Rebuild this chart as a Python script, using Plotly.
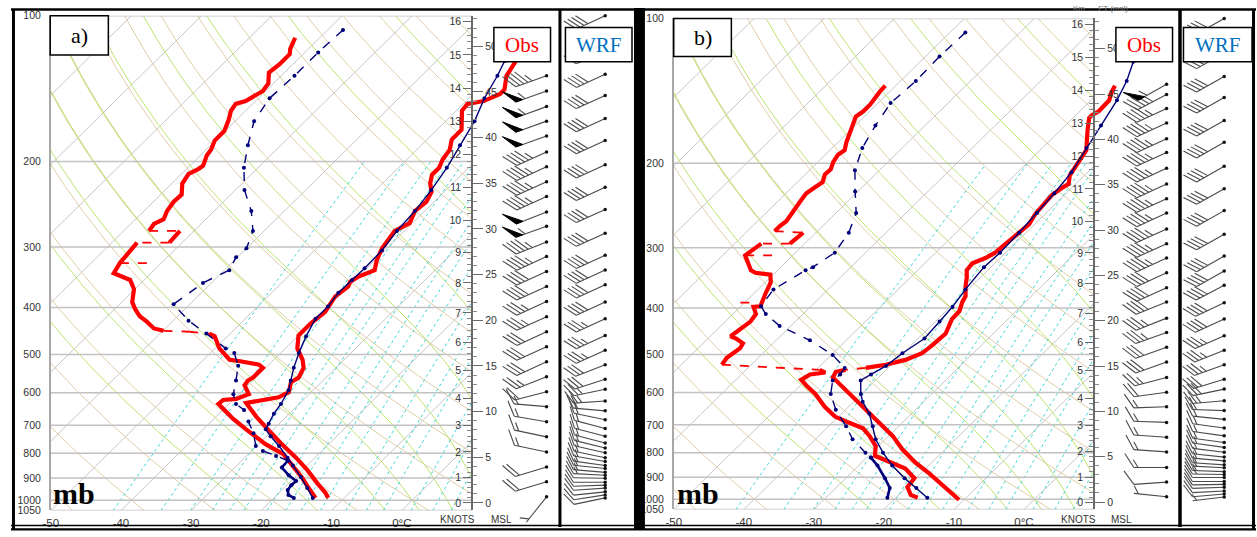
import numpy as np
import plotly.graph_objects as go

W, H = 1257, 537
SANS = "Liberation Sans, Arial, sans-serif"
SERIF = "Liberation Serif, Times New Roman, serif"

SKEW = 70.0              # degC of skew per decade of pressure
P_BOT, P_TOP = 1050.0, 100.0
T_LEFT, T_RIGHT = -50.0, 10.0

# ---------------- axis / tick data ----------------
P_TICKS = [100, 200, 300, 400, 500, 600, 700, 800, 900, 1000, 1050]
T_TICKS = [-50, -40, -30, -20, -10, 0]
T_TICK_TEXT = ["-50", "-40", "-30", "-20", "-10", "0°C"]
KM_TICKS = [0, 1, 2, 3, 4, 5, 6, 7, 8, 9, 10, 11, 12, 13, 14, 15, 16]
KNOT_TICKS = [0, 5, 10, 15, 20, 25, 30, 35, 40, 45, 50]
KNOT_ZERO_P = 1013.25
KNOT_50_P = 115.6

ISOTHERMS = [-130, -120, -110, -100, -90, -80, -70, -60, -50, -40, -30, -20, -10, 0, 10]
DRY_THETA_C = [-60, -50, -40, -30, -20, -10, 0, 10, 20, 30, 40, 50, 60, 70, 80, 90, 100, 110, 120, 130, 140, 150]
MOIST_T1000 = [-25, -15, -5, 0, 5, 10, 15, 20, 25, 30, 35, 40]
MIX_RATIOS = [0.1, 0.2, 0.3, 0.4, 0.5, 0.6, 0.8, 1.0, 1.2, 1.5, 2.0, 2.5, 3.0, 4.0, 5.0, 6.0, 8.0, 10.0, 12.0]
MIX_TOP_P = 200.0

# ---------------- panel a : sounding data ----------------
OBS_A_T_P = [120, 124, 133, 138, 142, 145, 150, 152, 157, 164, 172, 180, 189, 198, 206, 213, 222, 231, 242, 253,
             268, 278, 291, 302, 320, 335, 346, 354, 362, 380, 409, 432, 457, 486, 513, 533, 558, 571, 598, 613,
             630, 672, 714, 762, 817, 868, 922, 966, 989]
OBS_A_T = [-49.2, -48.7, -47.9, -47.0, -46.2, -46.2, -47.5, -49.4, -49.2, -47.9, -46.5, -46.5, -45.3, -44.9, -44.2,
           -44.2, -43.2, -41.8, -41.1, -41.4, -40.4, -41.4, -41.1, -40.7, -39.7, -38.6, -40.0, -40.4, -40.0, -40.4,
           -39.6, -40.0, -40.0, -38.3, -35.9, -34.6, -33.9, -34.3, -33.2, -33.9, -37.7, -34.3, -30.8, -27.0, -22.7,
           -19.2, -16.0, -13.4, -12.3]
OBS_A_TD_P = [111, 117, 120, 126, 131, 138, 143, 150, 152, 157, 164, 173, 181, 189, 194, 204, 207, 212, 222, 234,
              242, 253, 263, 269, 278, 278, 287, 294, 294, 302, 315, 324, 340, 351, 367, 390, 403, 417, 428, 442,
              447, 449, 453, 459, 486, 504, 513, 516, 525, 533, 550, 558, 566, 579, 604, 618, 621, 633, 651, 679,
              714, 766, 802, 848, 901, 944, 989]
OBS_A_TD = [-83.5, -82.6, -81.9, -81.9, -82.2, -80.7, -80.4, -81.4, -82.4, -82.1, -81.1, -80.1, -80.1, -79.3, -79.1,
            -78.1, -78.3, -79.0, -78.5, -77.0, -77.1, -76.7, -76.0, -76.7, -76.4, -72.0, -71.8, -71.8, -76.4, -76.3,
            -76.0, -75.9, -75.3, -72.0, -70.1, -68.5, -67.1, -65.4, -63.6, -61.6, -59.9, -56.1, -53.0, -51.8, -49.4,
            -47.3, -46.3, -44.8, -41.4, -40.4, -40.4, -40.4, -40.7, -40.5, -38.6, -39.7, -41.4, -41.5, -39.8, -37.3,
            -33.9, -29.0, -25.1, -22.0, -18.8, -16.5, -14.1]
OBS_A_SPIKE_P = [324]
OBS_A_SPIKE_T1 = [-75.9]
OBS_A_SPIKE_T2 = [-71.1]

WRF_A_T_P = [115, 124, 133, 148, 165, 185, 206, 229, 253, 278, 305, 332, 351, 373, 398, 422, 459, 497, 533, 566,
             593, 633, 663, 695, 714, 738, 773, 817, 848, 896, 944, 989]
WRF_A_T = [-51.7, -50.3, -49.2, -47.8, -45.9, -44.5, -43.1, -42.1, -41.4, -41.1, -40.4, -40.3, -40.4, -40.5, -40.0,
           -40.0, -38.8, -37.4, -36.0, -34.6, -33.5, -32.6, -32.2, -31.5, -31.1, -29.4, -26.8, -23.9, -22.0, -19.2,
           -16.7, -14.5]
WRF_A_TD_P = [107, 119, 133, 148, 165, 185, 206, 229, 253, 278, 302, 315, 335, 356, 394, 426, 453, 486, 497, 528,
              566, 604, 633, 651, 688, 727, 773, 791, 810, 829]
WRF_A_TD = [-77.8, -78.1, -78.1, -78.4, -77.3, -74.7, -72.0, -68.7, -64.7, -61.6, -60.0, -60.2, -59.3, -61.2, -62.3,
            -57.8, -53.4, -48.5, -46.6, -44.2, -42.4, -40.8, -39.0, -37.0, -34.7, -32.3, -30.1, -28.4, -25.8, -23.4]
WRF_A_TD_LOW_P = [829, 856, 888, 913, 931, 953, 975, 989]
WRF_A_TD_LOW = [-23.4, -23.3, -21.2, -19.3, -19.4, -19.2, -18.4, -17.2]

# ---------------- panel b : sounding data ----------------
OBS_B_T_P = [138, 142, 148, 152, 156, 159, 161, 171, 179, 188, 195, 202, 212, 221, 224, 233, 243, 255, 268, 280,
             294, 307, 315, 323, 334, 345, 361, 378, 389, 406, 422, 452, 478, 497, 513, 525, 533, 538, 543, 558,
             585, 622, 651, 696, 739, 786, 839, 883, 934, 979, 1002]
OBS_B_T = [-48.7, -48.3, -47.4, -47.4, -47.3, -47.7, -47.7, -46.1, -44.8, -43.4, -43.0, -42.6, -42.1, -41.0, -41.3,
           -41.8, -41.6, -41.4, -40.8, -41.1, -41.4, -41.5, -42.1, -43.2, -43.0, -42.0, -40.8, -39.4, -39.0, -38.1,
           -38.0, -36.8, -37.0, -37.3, -38.7, -40.8, -43.2, -45.8, -46.9, -46.5, -43.6, -39.9, -37.1, -33.1, -29.4,
           -26.2, -22.3, -18.8, -15.2, -12.4, -10.7]
OBS_B_TD_P = [138, 142, 151, 156, 160, 167, 175, 181, 188, 192, 199, 206, 211, 219, 224, 231, 240, 252, 264, 270,
              277, 279, 287, 294, 294, 301, 308, 311, 334, 338, 341, 354, 372, 384, 397, 398, 412, 427, 442, 452,
              458, 463, 474, 485, 497, 508, 525, 538, 545, 550, 564, 579, 604, 642, 673, 689, 712, 739, 775, 812,
              839, 863, 904, 943, 979, 992]
OBS_B_TD = [-81.5, -81.4, -80.9, -80.9, -81.2, -80.4, -79.4, -78.8, -77.9, -78.2, -77.8, -77.1, -77.2, -76.4, -76.7,
            -77.1, -76.8, -76.4, -75.9, -76.1, -76.1, -71.8, -72.0, -72.1, -76.2, -76.4, -76.6, -76.8, -73.8, -72.8,
            -70.4, -69.2, -68.4, -67.8, -67.2, -68.1, -66.7, -66.4, -66.8, -67.1, -67.1, -66.0, -64.3, -64.0, -64.3,
            -64.5, -64.2, -49.5, -48.3, -50.2, -50.7, -49.2, -46.6, -43.4, -40.5, -38.2, -34.8, -32.7, -30.4, -29.1,
            -25.6, -22.9, -20.2, -19.9, -18.3, -16.9]
OBS_B_SPIKE_P = [311, 390]
OBS_B_SPIKE_T1 = [-76.8, -70.6]
OBS_B_SPIKE_T2 = [-72.4, -68.4]

WRF_B_T_P = [114, 123, 135, 148, 167, 186, 209, 231, 254, 279, 307, 329, 366, 398, 427, 463, 497, 528, 550, 566,
             604, 627, 664, 705, 750, 800, 851, 904, 947, 993]
WRF_B_T = [-51.1, -49.6, -47.7, -46.3, -44.9, -43.7, -42.3, -41.7, -41.3, -41.0, -40.8, -41.0, -40.4, -39.7, -39.4,
           -39.1, -40.1, -40.6, -41.5, -42.1, -40.1, -38.7, -36.0, -33.7, -31.4, -28.4, -25.2, -21.6, -18.5, -15.5]
WRF_B_TD_P = [107, 120, 135, 150, 167, 186, 207, 229, 254, 279, 307, 329, 334, 366, 397, 412, 436, 467, 501, 533,
              550, 566, 604, 651, 705, 750, 800, 819]
WRF_B_TD = [-77.8, -78.0, -77.8, -78.2, -77.1, -75.7, -73.5, -70.4, -67.1, -65.3, -64.4, -65.4, -66.0, -67.8, -67.1,
            -65.3, -61.6, -55.2, -49.8, -46.2, -45.9, -46.1, -44.4, -41.4, -37.5, -34.7, -30.9, -29.4]
WRF_B_TD_LOW_P = [819, 851, 904, 947, 993]
WRF_B_TD_LOW = [-29.4, -27.3, -24.4, -22.3, -21.2]

# ---------------- wind barbs (direction deg, speed kt) ----------------
OBS_A_BARB_P = [133, 143, 154, 165, 177, 191, 205, 220, 236, 254, 272, 293, 314, 337, 362, 389, 418, 449, 482, 518,
                556, 597, 641, 689, 740, 795, 854, 916, 984]
OBS_A_DIR = [250, 250, 250, 250, 250, 245, 245, 245, 245, 248, 250, 248, 245, 245, 245, 245, 245, 245, 245, 245,
             248, 255, 275, 280, 282, 282, 253, 253, 218]
OBS_A_SPD = [45, 55, 55, 50, 50, 45, 45, 45, 45, 50, 55, 45, 45, 40, 40, 35, 35, 30, 30, 30,
             25, 20, 15, 15, 15, 15, 20, 20, 5]

OBS_B_BARB_P = [137, 144, 154, 165, 178, 190, 205, 221, 237, 254, 274, 294, 315, 338, 363, 389, 420, 450, 483, 518,
                558, 599, 642, 692, 743, 797, 859, 921, 988]
OBS_B_DIR = [240, 242, 245, 245, 245, 245, 245, 245, 245, 245, 245, 245, 245, 245, 245, 248, 248, 250, 250, 250,
             255, 262, 268, 272, 274, 274, 270, 266, 276]
OBS_B_SPD = [55, 45, 45, 45, 45, 45, 45, 45, 45, 45, 45, 45, 45, 40, 40, 40, 35, 35, 30, 30,
             25, 20, 15, 15, 15, 15, 15, 10, 3]

WRF_BARB_P = [100, 118, 132, 146, 163, 181, 203, 226, 251, 281, 312, 335, 359, 390, 422, 457, 490, 525, 563, 590,
              624, 654, 682, 711, 738, 762, 780, 798, 817, 832, 848, 860, 876, 888, 901, 918, 931, 944, 961, 975, 989]
WRF_A_DIR = [245, 245, 245, 245, 245, 245, 245, 245, 245, 245, 245, 245, 245, 245, 245, 245, 245, 248, 252, 258,
             266, 275, 282, 285, 285, 285, 284, 283, 282, 280, 278, 276, 275, 273, 271, 270, 268, 266, 264, 261, 258]
WRF_A_SPD = [40, 40, 40, 40, 40, 40, 40, 40, 40, 40, 40, 40, 40, 40, 35, 35, 35, 30, 30, 25,
             25, 20, 20, 15, 15, 15, 15, 15, 15, 15, 15, 15, 15, 15, 10, 10, 10, 10, 10, 10, 10]
WRF_B_DIR = [240, 240, 240, 240, 240, 240, 240, 240, 240, 240, 240, 240, 242, 244, 245, 246, 248, 250, 253, 258,
             265, 272, 276, 278, 278, 278, 278, 277, 276, 275, 274, 273, 272, 271, 270, 270, 269, 268, 267, 265, 263]
WRF_B_SPD = [40, 40, 40, 40, 40, 40, 40, 40, 40, 40, 40, 40, 40, 40, 40, 35, 35, 35, 30, 30,
             25, 20, 20, 15, 15, 15, 15, 15, 15, 15, 15, 15, 15, 15, 10, 10, 10, 10, 10, 10, 5]

# ---------------- layout geometry (pixels) ----------------
PANELS = {
    "a": dict(x0=43.0, x1=467.0, y0=10.0, y1=516.0, xend=556.0, obs_x=542.0, wrf_x=601.0,
              xa="x", ya="y", yk="y3", yn="y4", bx="x5", by="y5"),
    "b": dict(x0=670.0, x1=1093.0, y0=12.7, y1=515.0, xend=1180.0, obs_x=1166.0, wrf_x=1224.0,
              xa="x2", ya="y2", yk="y6", yn="y7", bx="x8", by="y8"),
}

# ---------------- helpers ----------------
RD, CP, LV, EPS = 287.04, 1005.7, 2.501e6, 0.622


def skew(T, p):
    return np.asarray(T, float) + SKEW * np.log10(P_BOT / np.asarray(p, float))


def nn(a):
    return [None if (v is None or (isinstance(v, float) and np.isnan(v))) else float(v) for v in a]


P_GRID = np.logspace(np.log10(P_BOT), np.log10(P_TOP), 420)


def sat_vp(Tk):
    Tc = Tk - 273.15
    return 6.112 * np.exp(17.67 * Tc / (Tc + 243.5))


def moist_rate(T, p):
    es = sat_vp(T)
    rs = EPS * es / (p - es)
    return (RD * T + LV * rs) / (p * (CP + LV * LV * rs * EPS / (RD * T * T)))


def integrate(T, ps):
    out = [T]
    for i in range(len(ps) - 1):
        p, h = ps[i], ps[i + 1] - ps[i]
        k1 = moist_rate(T, p)
        k2 = moist_rate(T + 0.5 * h * k1, p + 0.5 * h)
        k3 = moist_rate(T + 0.5 * h * k2, p + 0.5 * h)
        k4 = moist_rate(T + h * k3, p + h)
        T = T + h * (k1 + 2 * k2 + 2 * k3 + k4) / 6.0
        out.append(T)
    return np.array(out)


def moist_adiabat(t1000):
    up = np.linspace(1000.0, 100.0, 361)
    down = np.linspace(1000.0, 1050.0, 21)
    tu = integrate(t1000 + 273.15, up)
    td = integrate(t1000 + 273.15, down)
    p = np.concatenate([down[::-1], up[1:]])
    T = np.concatenate([td[::-1], tu[1:]]) - 273.15
    return p, T


def std_pressure(z_km):
    z = np.asarray(z_km, float) * 1000.0
    low = 1013.25 * np.clip(1 - 2.25577e-5 * np.minimum(z, 11000.0), 1e-6, None) ** 5.25588
    high = 226.32 * np.exp(-(z - 11000.0) / 6341.62)
    return np.where(z <= 11000.0, low, high)


def family(curves):
    X, Y = [], []
    for p, T in curves:
        xs = skew(T, p)
        xs = np.where(xs > T_RIGHT, np.nan, xs)
        X += nn(xs) + [None]
        Y += nn(p) + [None]
    return X, Y


def split_jumps(p, T):
    p = np.asarray(p, float)
    T = np.asarray(T, float)
    xs = skew(T, p)
    mx, my, jx, jy = [float(xs[0])], [float(p[0])], [], []
    for i in range(1, len(p)):
        dlog = abs(np.log10(p[i] / p[i - 1]))
        dT = abs(T[i] - T[i - 1])
        if dT > 2.5 and dT > 600 * dlog:
            mx.append(None)
            my.append(None)
            jx += [float(xs[i - 1]), float(xs[i]), None]
            jy += [float(p[i - 1]), float(p[i]), None]
        mx.append(float(xs[i]))
        my.append(float(p[i]))
    return mx, my, jx, jy


def line_trace(x, y, xa, ya, color, width, dash="solid", marker=None):
    kw = dict(x=x, y=y, xaxis=xa, yaxis=ya, mode="lines", hoverinfo="skip", showlegend=False,
              line=dict(color=color, width=width, dash=dash), connectgaps=False)
    if marker:
        kw["mode"] = "lines+markers"
        kw["marker"] = dict(size=marker, color=color)
    return go.Scatter(**kw)


def barb_traces(sx, plist, dirs, spds, ppd, xa, ya, L, F, gap, color):
    lx, ly, fx, fy, dx, dy = [], [], [], [], [], []
    tilt = np.deg2rad(32.0)
    for p0, dd, ss in zip(plist, dirs, spds):
        th = np.deg2rad(dd)
        d = np.array([np.sin(th), np.cos(th)])
        perp = np.array([d[1], -d[0]])
        f = perp * np.cos(tilt) + d * np.sin(tilt)

        def pt(v, p0=p0):
            return sx + v[0], p0 * 10 ** (-v[1] / ppd)

        def seg(a, b):
            xa_, ya_ = pt(a)
            xb_, yb_ = pt(b)
            lx.extend([xa_, xb_, None])
            ly.extend([ya_, yb_, None])

        seg(np.zeros(2), L * d)
        spd = int(5 * round(ss / 5.0))
        n50, rem = divmod(spd, 50)
        n10, rem = divmod(rem, 10)
        n5 = 1 if rem >= 5 else 0
        t = L
        for _ in range(n50):
            a = t * d
            b = (t - 1.7 * gap) * d
            tip = a + F * f
            for v in (a, tip, b, a):
                x_, y_ = pt(v)
                fx.append(x_)
                fy.append(y_)
            fx.append(None)
            fy.append(None)
            t -= 2.3 * gap
        for _ in range(n10):
            seg(t * d, t * d + F * f)
            t -= gap
        if n5:
            if n50 == 0 and n10 == 0:
                t -= gap
            seg(t * d, t * d + 0.55 * F * f)
        x_, y_ = pt(np.zeros(2))
        dx.append(x_)
        dy.append(y_)
    out = [go.Scatter(x=lx, y=ly, xaxis=xa, yaxis=ya, mode="lines", hoverinfo="skip", showlegend=False,
                      line=dict(color=color, width=1.1))]
    if fx:
        out.append(go.Scatter(x=fx, y=fy, xaxis=xa, yaxis=ya, mode="lines", fill="toself", fillcolor="black",
                              hoverinfo="skip", showlegend=False, line=dict(color="black", width=1)))
    out.append(go.Scatter(x=dx, y=dy, xaxis=xa, yaxis=ya, mode="markers", hoverinfo="skip", showlegend=False,
                          marker=dict(size=3.5, color="#111")))
    return out


# ---------------- background curves ----------------
iso_curves = [(P_GRID, np.full_like(P_GRID, t)) for t in ISOTHERMS]
dry_curves = [(P_GRID, (th + 273.15) * (P_GRID / 1000.0) ** 0.2857 - 273.15) for th in DRY_THETA_C]
moist_curves = [moist_adiabat(t) for t in MOIST_T1000]
p_mix = P_GRID[P_GRID >= MIX_TOP_P]
mix_curves = []
for w in MIX_RATIOS:
    e = w * p_mix / (622.0 + w)
    ln = np.log(e / 6.112)
    mix_curves.append((p_mix, 243.5 * ln / (17.67 - ln)))

fig = go.Figure()

SOUNDINGS = {
    "a": dict(obs_t=(OBS_A_T_P, OBS_A_T), obs_td=(OBS_A_TD_P, OBS_A_TD),
              spikes=(OBS_A_SPIKE_P, OBS_A_SPIKE_T1, OBS_A_SPIKE_T2),
              wrf_t=(WRF_A_T_P, WRF_A_T), wrf_td=(WRF_A_TD_P, WRF_A_TD), wrf_td_low=(WRF_A_TD_LOW_P, WRF_A_TD_LOW),
              obs_barb=(OBS_A_BARB_P, OBS_A_DIR, OBS_A_SPD), wrf_barb=(WRF_BARB_P, WRF_A_DIR, WRF_A_SPD)),
    "b": dict(obs_t=(OBS_B_T_P, OBS_B_T), obs_td=(OBS_B_TD_P, OBS_B_TD),
              spikes=(OBS_B_SPIKE_P, OBS_B_SPIKE_T1, OBS_B_SPIKE_T2),
              wrf_t=(WRF_B_T_P, WRF_B_T), wrf_td=(WRF_B_TD_P, WRF_B_TD), wrf_td_low=(WRF_B_TD_LOW_P, WRF_B_TD_LOW),
              obs_barb=(OBS_B_BARB_P, OBS_B_DIR, OBS_B_SPD), wrf_barb=(WRF_BARB_P, WRF_B_DIR, WRF_B_SPD)),
}

RED = "#ff0000"
NAVY = "#00007a"

layout_axes = {}
for key, g in PANELS.items():
    xa, ya = g["xa"], g["ya"]
    ppd = (g["y1"] - g["y0"]) / np.log10(P_BOT / P_TOP)
    s = SOUNDINGS[key]

    # background families
    for curves, color, width, dash in ((iso_curves, "#c6c6c6", 1.0, "solid"),
                                       (dry_curves, "#e0cda8", 1.0, "solid"),
                                       (moist_curves, "#bde36f", 1.0, "solid"),
                                       (mix_curves, "#40d6d6", 1.0, "dot")):
        X, Y = family(curves)
        fig.add_trace(line_trace(X, Y, xa, ya, color, width, dash))
    # isobars
    bx, by = [], []
    for p in P_TICKS:
        bx += [T_LEFT, T_RIGHT, None]
        by += [p, p, None]
    fig.add_trace(line_trace(bx, by, xa, ya, "#c2c2c2", 1.5))

    # observed profiles (red)
    for pp, tt in (s["obs_td"], s["obs_t"]):
        mx, my, jx, jy = split_jumps(pp, tt)
        fig.add_trace(line_trace(mx, my, xa, ya, RED, 4.2))
        if jx:
            fig.add_trace(line_trace(jx, jy, xa, ya, RED, 1.8, "dash"))
    sp, s1, s2 = s["spikes"]
    sx_, sy_ = [], []
    for p, t1, t2 in zip(sp, s1, s2):
        sx_ += [float(skew(t1, p)), float(skew(t2, p)), None]
        sy_ += [p, p, None]
    fig.add_trace(line_trace(sx_, sy_, xa, ya, RED, 1.8, "dash"))

    # WRF profiles (navy)
    pp, tt = s["wrf_t"]
    fig.add_trace(line_trace(nn(skew(tt, pp)), pp, xa, ya, NAVY, 1.4, "solid", marker=4))
    pp, tt = s["wrf_td"]
    fig.add_trace(line_trace(nn(skew(tt, pp)), pp, xa, ya, NAVY, 1.4, "dash", marker=4))
    pp, tt = s["wrf_td_low"]
    fig.add_trace(line_trace(nn(skew(tt, pp)), pp, xa, ya, NAVY, 2.6, "solid", marker=4))

    # dummy traces so that the ruler axes are drawn
    fig.add_trace(go.Scatter(x=[T_LEFT], y=[500], xaxis=xa, yaxis=g["yk"], mode="markers",
                             marker=dict(opacity=0), hoverinfo="skip", showlegend=False))
    fig.add_trace(go.Scatter(x=[T_LEFT], y=[10], xaxis=xa, yaxis=g["yn"], mode="markers",
                             marker=dict(opacity=0), hoverinfo="skip", showlegend=False))

    # wind barbs
    for tr in barb_traces(g["obs_x"], *s["obs_barb"], ppd, g["bx"], g["by"], 33.0, 17.0, 4.4, "#4a4a4a"):
        fig.add_trace(tr)
    for tr in barb_traces(g["wrf_x"], *s["wrf_barb"], ppd, g["bx"], g["by"], 32.0, 15.0, 4.3, "#4a4a4a"):
        fig.add_trace(tr)

    # ---- axes ----
    xrange_end = T_LEFT + (T_RIGHT - T_LEFT) * (g["xend"] - g["x0"]) / (g["x1"] - g["x0"])
    ydom = [1 - g["y1"] / H, 1 - g["y0"] / H]
    prange = [np.log10(P_BOT), np.log10(P_TOP)]
    tickfont = dict(family=SANS, size=10.5, color="#333")
    layout_axes["xaxis" + xa[1:]] = dict(domain=[g["x0"] / W, g["xend"] / W], range=[T_LEFT, xrange_end],
                                         anchor=ya, showgrid=False, zeroline=False, showline=False,
                                         tickmode="array", tickvals=T_TICKS, ticktext=T_TICK_TEXT,
                                         ticks="outside", ticklen=2, tickcolor="rgba(0,0,0,0)",
                                         tickfont=dict(family=SANS, size=11.5, color="#333"), fixedrange=True)
    layout_axes["yaxis" + ya[1:]] = dict(domain=ydom, type="log", range=prange, anchor=xa,
                                         showgrid=False, zeroline=False, showline=True, linecolor="#a8a8a8",
                                         linewidth=1.5, tickmode="array", tickvals=P_TICKS,
                                         ticktext=[str(v) for v in P_TICKS], ticks="outside", ticklen=6,
                                         tickcolor="rgba(0,0,0,0)", tickfont=tickfont, fixedrange=True)
    km_minor = [k / 5.0 for k in range(0, 82)]
    layout_axes["yaxis" + g["yk"][1:]] = dict(overlaying=ya, anchor="free", position=g["x1"] / W, side="left",
                                              type="log", range=prange, showgrid=False, zeroline=False,
                                              showline=True, linecolor="#6a6a6a", linewidth=1.5,
                                              tickmode="array", tickvals=nn(std_pressure(KM_TICKS)),
                                              ticktext=[str(k) for k in KM_TICKS], ticks="outside", ticklen=8,
                                              tickcolor="#6a6a6a", tickfont=tickfont, fixedrange=True,
                                              minor=dict(tickmode="array", tickvals=nn(std_pressure(km_minor)),
                                                         ticks="outside", ticklen=4, tickcolor="#8a8a8a"))
    per_kt = (np.log10(KNOT_ZERO_P) - np.log10(KNOT_50_P)) / 50.0
    kt_range = [(np.log10(KNOT_ZERO_P) - np.log10(P_BOT)) / per_kt, (np.log10(KNOT_ZERO_P) - np.log10(P_TOP)) / per_kt]
    layout_axes["yaxis" + g["yn"][1:]] = dict(overlaying=ya, anchor="free", position=g["x1"] / W, side="right",
                                              range=kt_range, showgrid=False, zeroline=False, showline=False,
                                              tickmode="array", tickvals=KNOT_TICKS,
                                              ticktext=[str(k) for k in KNOT_TICKS], ticks="outside", ticklen=10,
                                              tickcolor="#6a6a6a", tickfont=tickfont, fixedrange=True,
                                              minor=dict(tickmode="linear", tick0=0, dtick=1, ticks="outside",
                                                         ticklen=4, tickcolor="#8a8a8a"))
    layout_axes["xaxis" + g["bx"][1:]] = dict(domain=[0, 1], range=[0, W], anchor=g["by"], visible=False,
                                              fixedrange=True)
    layout_axes["yaxis" + g["by"][1:]] = dict(domain=[0, 1], type="log",
                                              range=[2 + (H - g["y0"]) / ppd, 2 - g["y0"] / ppd],
                                              anchor=g["bx"], visible=False, fixedrange=True)


def X(px):
    return px / W


def Y(py):
    return 1 - py / H


shapes = []


def rect(x0, y0, x1, y1, lw=1.5, fill="white", color="black"):
    shapes.append(dict(type="rect", xref="paper", yref="paper", x0=X(x0), x1=X(x1), y0=Y(y1), y1=Y(y0),
                       line=dict(color=color, width=lw), fillcolor=fill, layer="above"))


def hline(y, x0, x1, lw):
    shapes.append(dict(type="line", xref="paper", yref="paper", x0=X(x0), x1=X(x1), y0=Y(y), y1=Y(y),
                       line=dict(color="black", width=lw), layer="above"))


def vline(x, y0, y1, lw):
    shapes.append(dict(type="line", xref="paper", yref="paper", x0=X(x), x1=X(x), y0=Y(y0), y1=Y(y1),
                       line=dict(color="black", width=lw), layer="above"))


# frames
hline(3.5, 3, 1256, 2.5)
hline(531.5, 3, 1256, 1.5)
hline(535.3, 3, 1256, 2.2)
vline(5.5, 3, 536, 3)
vline(555.5, 3, 533, 3)
rect(630, 2, 641, 536, lw=0, fill="black")
vline(1179.5, 3, 533, 3.5)
vline(1253.5, 3, 536, 3)

# label boxes
rect(42.5, 10, 101, 50)
rect(670, 12.7, 728, 51.7)
rect(489, 22, 546, 57)
rect(561, 22, 628, 57)
rect(1115, 22, 1172, 57)
rect(1183, 22, 1252, 57)

annotations = []


def text(x, y, s, size, color="black", family=SERIF, xanchor="center"):
    annotations.append(dict(x=X(x), y=Y(y), xref="paper", yref="paper", text=s, showarrow=False,
                            xanchor=xanchor, yanchor="middle", font=dict(family=family, size=size, color=color)))


text(72, 30, "a)", 22)
text(699, 32, "b)", 22)
text(517.5, 39.5, "Obs", 21, RED)
text(594.5, 39.5, "WRF", 21, "#0070c0")
text(1143.5, 39.5, "Obs", 21, RED)
text(1217.5, 39.5, "WRF", 21, "#0070c0")
text(66, 499, "<b>mb</b>", 30)
text(694, 499, "<b>mb</b>", 30)
text(452, 525.5, "KNOTS", 10, "#333", SANS)
text(497, 525.5, "MSL", 10, "#333", SANS)
text(1077, 525.5, "KNOTS", 10, "#333", SANS)
text(1121, 525.5, "MSL", 10, "#333", SANS)
text(1100, 3, "Km      FT (msl)", 8, "#777", SANS)

fig.update_layout(width=W, height=H, margin=dict(l=0, r=0, t=0, b=0), paper_bgcolor="white",
                  plot_bgcolor="rgba(0,0,0,0)", showlegend=False, hovermode=False,
                  shapes=shapes, annotations=annotations, **layout_axes)

fig.write_html("out.html", config={"displayModeBar": False})
